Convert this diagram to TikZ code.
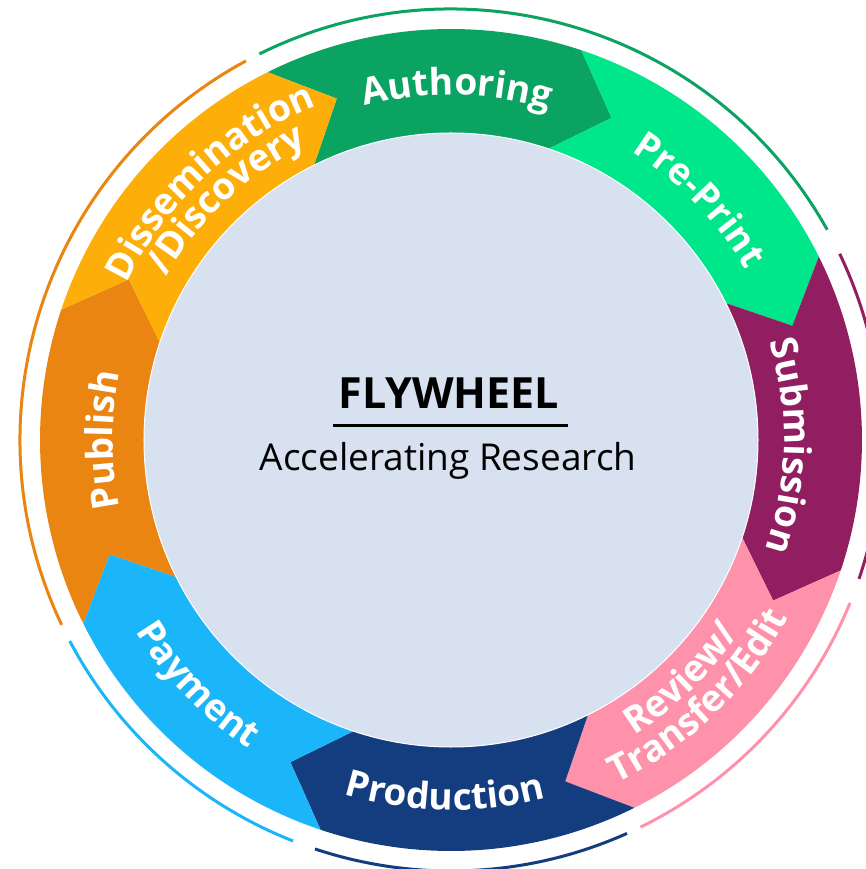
\documentclass[tikz,border=0pt]{standalone}
\usepackage{fontspec}
\setmainfont{Open Sans}
\usetikzlibrary{decorations.text}
\definecolor{cAuth}{RGB}{11,163,98}
\definecolor{cPre}{RGB}{0,230,138}
\definecolor{cSub}{RGB}{146,30,98}
\definecolor{cRev}{RGB}{255,146,171}
\definecolor{cProd}{RGB}{20,61,128}
\definecolor{cPay}{RGB}{26,182,249}
\definecolor{cPub}{RGB}{233,133,16}
\definecolor{cDis}{RGB}{253,174,8}
\definecolor{cHub}{RGB}{215,225,240}
\newcommand\flyLbl{\fontsize{37}{40}\selectfont\bfseries\color{white}}
\def\RingOut{411pt}
\def\RingIn{307pt}
\def\RingMid{360pt}
\tikzset{
  lbl/.style={decorate, decoration={text along path, text align=center}},
  outerarc/.style={line width=3pt},
}
\begin{document}
\begin{tikzpicture}[x=1pt,y=1pt]
\useasboundingbox (-451pt,-429pt) rectangle (415pt,440pt);
\fill[white] (-451pt,-429pt) rectangle (415pt,440pt);
\clip (-451pt,-429pt) rectangle (415pt,440pt);
% ring segments (arrows pointing clockwise)
\foreach \s/\c in {116.5/cAuth,71.5/cPre,26.5/cSub,-18.5/cRev,-63.5/cProd,-108.5/cPay,-153.5/cPub,-198.5/cDis}{
  \pgfmathsetmacro{\e}{\s-45}
  \pgfmathsetmacro{\et}{\s-53}
  \pgfmathsetmacro{\st}{\s-8}
  \fill[\c] (\s:\RingOut) arc[start angle=\s, end angle=\e, radius=\RingOut]
     -- (\et:\RingMid) -- (\e:\RingIn) arc[start angle=\e, end angle=\s, radius=\RingIn]
     -- (\st:\RingMid) -- cycle;
}
% outer thin arcs
\draw[outerarc, cAuth] (116.4:431pt) arc[start angle=116.4, end angle=29.2, radius=431pt];
\draw[outerarc, cSub] (25.6:431pt) arc[start angle=25.6, end angle=-18.8, radius=431pt];
\draw[outerarc, cRev] (-22.2:431pt) arc[start angle=-22.2, end angle=-63.9, radius=431pt];
\draw[outerarc, cProd] (-65.9:431pt) arc[start angle=-65.9, end angle=-108.4, radius=431pt];
\draw[outerarc, cPay] (-111.5:431pt) arc[start angle=-111.5, end angle=-152.2, radius=431pt];
\draw[outerarc, cPub] (-154.6:431pt) arc[start angle=-154.6, end angle=-241.6, radius=431pt];
% hub
\node[circle, fill=cHub, draw=white, line width=1pt, minimum size=614pt, inner sep=0pt] (hub) at (0,0) {};
\node[anchor=base, inner sep=0pt, font=\fontsize{43}{48}\selectfont\bfseries] (title) at (-2pt,31pt) {FLYWHEEL};
\draw[line width=3pt] (-118pt,14pt) -- (117pt,14pt);
\node[anchor=base, inner sep=0pt, font=\fontsize{37}{42}\selectfont] (subtitle) at (-3pt,-31pt) {Accelerating Research};
% labels, clockwise reading (tops outward)
\path[lbl, decoration={text={|\flyLbl|Authoring}}] (129:345pt) arc[start angle=129, end angle=49, radius=345pt];
\path[lbl, decoration={text={|\flyLbl|Pre-Print}}] (84:340pt) arc[start angle=84, end angle=4, radius=340pt];
\path[lbl, decoration={text={|\flyLbl|Submission}}] (39:333pt) arc[start angle=39, end angle=-41, radius=333pt];
\path[lbl, decoration={text={|\flyLbl|Publish}}] (220:338pt) arc[start angle=220, end angle=140, radius=338pt];
\path[lbl, decoration={text={|\flyLbl|Dissemination}}] (173:360pt) arc[start angle=173, end angle=93, radius=360pt];
\path[lbl, decoration={text={|\flyLbl|/Discovery}}] (173:328pt) arc[start angle=173, end angle=93, radius=328pt];
% labels, counter-clockwise reading (tops inward)
\path[lbl, decoration={text={|\flyLbl|Review/}}] (-86:347pt) arc[start angle=-86, end angle=-6, radius=347pt];
\path[lbl, decoration={text={|\flyLbl|Transfer/Edit}}] (-86:381pt) arc[start angle=-86, end angle=-6, radius=381pt];
\path[lbl, decoration={text={|\flyLbl|Production}}] (-131:370pt) arc[start angle=-131, end angle=-51, radius=370pt];
\path[lbl, decoration={text={|\flyLbl|Payment}}] (-176:369pt) arc[start angle=-176, end angle=-96, radius=369pt];
\end{tikzpicture}
\end{document}
